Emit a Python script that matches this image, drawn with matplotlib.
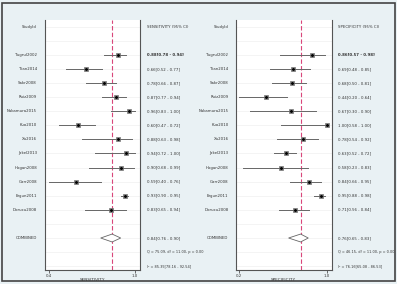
import matplotlib
matplotlib.use("Agg")
import matplotlib.pyplot as plt
import matplotlib.transforms as mtransforms
from matplotlib.patches import Rectangle, Polygon

studies = ["Tugrul2002", "Tian2014", "Sakr2008", "Ruiz2009", "Nakamura2015", "Kuo2010",
           "Xu2016", "Jakel2013", "Hogan2008", "Garr2008", "Ergun2011", "Dorucu2008"]

sens = [0.88, 0.66, 0.78, 0.87, 0.96, 0.60, 0.88, 0.94, 0.90, 0.59, 0.93, 0.83]
sens_lo = [0.78, 0.52, 0.66, 0.77, 0.83, 0.47, 0.63, 0.72, 0.68, 0.40, 0.90, 0.65]
sens_hi = [0.94, 0.77, 0.87, 0.94, 1.00, 0.72, 0.98, 1.00, 0.99, 0.76, 0.95, 0.94]
sens_pool = [0.84, 0.76, 0.90]
sens_stats = ["Q = 75.09, df = 11.00, p = 0.00", "I\u00b2 = 85.35[78.16 - 92.54]"]

spec = [0.86, 0.69, 0.68, 0.44, 0.67, 1.00, 0.78, 0.63, 0.58, 0.84, 0.95, 0.71]
spec_lo = [0.57, 0.48, 0.50, 0.20, 0.30, 0.58, 0.54, 0.52, 0.23, 0.66, 0.88, 0.56]
spec_hi = [0.98, 0.85, 0.81, 0.64, 0.90, 1.00, 0.92, 0.72, 0.83, 0.95, 0.98, 0.84]
spec_pool = [0.76, 0.65, 0.83]
spec_stats = ["Q = 46.15, df = 11.00, p = 0.00", "I\u00b2 = 76.16[65.08 - 86.53]"]

W, H = 397, 284
bg = "#e9f1f4"
fig = plt.figure(figsize=(W / 100, H / 100), dpi=100, facecolor=bg)
fig.add_artist(Rectangle((2 / W, 3 / H), 393 / W, 278 / H, transform=fig.transFigure,
                         fill=False, edgecolor="#444444", linewidth=1.2))

fs = 2.8
row0 = 2  # first study row


def panel(box_px, xlim, ticks, ticklabels, label, header, est, lo, hi, pool, stats,
          name_x, value_x):
    x0, x1, y0, y1 = box_px
    ax = fig.add_axes([x0 / W, 1 - y1 / H, (x1 - x0) / W, (y1 - y0) / H])
    ax.set_facecolor("white")
    ax.set_xlim(*xlim)
    ax.set_ylim(17.27, -0.47)
    ax.set_yticks([])
    ax.set_xticks(ticks)
    ax.set_xticklabels(ticklabels, fontsize=fs, color="#333333")
    ax.tick_params(axis="x", length=2, width=0.5, pad=1, colors="#333333")
    ax.set_xlabel(label, fontsize=fs + 0.3, labelpad=0, color="#333333")
    ax.spines["top"].set_visible(False)
    for s in ["left", "right", "bottom"]:
        ax.spines[s].set_color("#555555")
        ax.spines[s].set_linewidth(0.8)

    for r in range(18):
        ax.axhline(r, color="#f0f0f0", linewidth=0.5, zorder=0)

    ax.axvline(pool[0], color="#d9467a", linestyle=(0, (4, 2)), linewidth=0.8, zorder=1)

    tr = mtransforms.blended_transform_factory(fig.transFigure, ax.transData)
    ax.text(name_x / W, 0, "StudyId", transform=tr,
            ha="right", va="center", fontsize=fs, color="#333333")
    ax.text(value_x / W, 0, header, transform=tr, ha="left", va="center",
            fontsize=fs, color="#333333")

    for i, name in enumerate(studies):
        y = row0 + i
        ax.plot([lo[i], hi[i]], [y, y], color="#666666", linewidth=0.7, zorder=2)
        ax.plot(est[i], y, marker="s", markersize=3.4, color="#999999",
                markeredgecolor="#555555", markeredgewidth=0.4, zorder=3)
        ax.plot(est[i], y, marker="o", markersize=1.1, color="black", zorder=4)
        ax.text(name_x / W, y, name, transform=tr, ha="right", va="center",
                fontsize=fs, color="#333333")
        ax.text(value_x / W, y, f"{est[i]:.2f}[{lo[i]:.2f} - {hi[i]:.2f}]",
                transform=tr, ha="left", va="center", fontsize=fs, color="#333333",
                fontweight="bold" if i == 0 else "normal")

    yc = row0 + len(studies) + 1
    dia = Polygon([[pool[1], yc], [pool[0], yc - 0.28], [pool[2], yc], [pool[0], yc + 0.28]],
                  closed=True, facecolor="white", edgecolor="#666666", linewidth=0.6, zorder=3)
    ax.add_patch(dia)
    ax.text(name_x / W, yc, "COMBINED", transform=tr, ha="right", va="center",
            fontsize=fs, color="#333333")
    ax.text(value_x / W, yc, f"{pool[0]:.2f}[{pool[1]:.2f} - {pool[2]:.2f}]",
            transform=tr, ha="left", va="center", fontsize=fs, color="#333333")
    for k, s in enumerate(stats):
        ax.text(value_x / W, yc + 1 + k, s, transform=tr, ha="left", va="center",
                fontsize=2.5, color="#333333")
    return ax


panel((44.5, 140, 20, 270), (0.367, 1.035), [0.4, 1.0], ["0.4", "1.0"], "SENSITIVITY",
      "SENSITIVITY (95% CI)", sens, sens_lo, sens_hi, sens_pool, sens_stats, 37, 147)
panel((236, 331.5, 20, 270), (0.170, 1.042), [0.2, 1.0], ["0.2", "1.0"], "SPECIFICITY",
      "SPECIFICITY (95% CI)", spec, spec_lo, spec_hi, spec_pool, spec_stats, 228.5, 338)

fig.savefig("out.png", dpi=100, facecolor=bg)
